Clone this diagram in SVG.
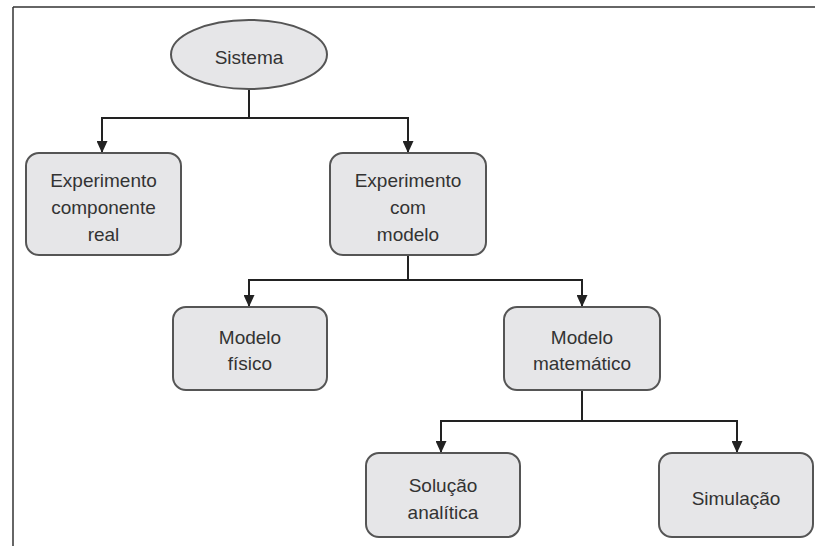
<svg xmlns="http://www.w3.org/2000/svg" width="815" height="546" viewBox="0 0 815 546">
<style>
.box{fill:#e6e6e8;stroke:#555;stroke-width:2}
.lbl{font-family:"Liberation Sans",Arial,Helvetica,sans-serif;font-size:19px;fill:#333;text-anchor:middle}
.con{fill:none;stroke:#222;stroke-width:2}
.arrow{fill:none;stroke:#222;stroke-width:2;marker-end:url(#arr)}
.frame{stroke:#333;stroke-width:1.5;fill:none}
</style>
<defs>
<marker id="arr" viewBox="0 0 11 12" refX="5.5" refY="12" markerWidth="11" markerHeight="12" markerUnits="userSpaceOnUse" orient="0">
<path d="M0,0 L11,0 L5.5,12 Z" fill="#222"/>
</marker>
</defs>
<g id="frame">
<line class="frame" x1="13" y1="7" x2="815" y2="7" stroke="#555"/>
<line class="frame" x1="13" y1="7" x2="13" y2="546"/>
</g>
<g id="connectors">
<path class="con" d="M249,89 V118"/>
<path class="con" d="M102,118 H408"/>
<path class="arrow" d="M102,117 V153"/>
<path class="arrow" d="M408,117 V153"/>
<path class="con" d="M408,255 V280"/>
<path class="con" d="M249,280 H582"/>
<path class="arrow" d="M249,279 V307"/>
<path class="arrow" d="M582,279 V307"/>
<path class="con" d="M582,390 V421"/>
<path class="con" d="M441,421 H737"/>
<path class="arrow" d="M441,420 V453"/>
<path class="arrow" d="M737,420 V453"/>
</g>
<g id="sistema">
<ellipse class="box" cx="249" cy="54.5" rx="78" ry="34.5"/>
<text class="lbl" x="249" y="64">Sistema</text>
</g>
<g id="experimento-real">
<rect class="box" x="26" y="153" width="155" height="102" rx="13"/>
<text class="lbl" x="103.5" y="187">Experimento</text>
<text class="lbl" x="103.5" y="214">componente</text>
<text class="lbl" x="103.5" y="241">real</text>
</g>
<g id="experimento-modelo">
<rect class="box" x="330" y="153" width="156" height="102" rx="13"/>
<text class="lbl" x="408" y="187">Experimento</text>
<text class="lbl" x="408" y="214">com</text>
<text class="lbl" x="408" y="241">modelo</text>
</g>
<g id="modelo-fisico">
<rect class="box" x="173" y="307" width="154" height="83" rx="13"/>
<text class="lbl" x="250" y="344">Modelo</text>
<text class="lbl" x="250" y="370">físico</text>
</g>
<g id="modelo-matematico">
<rect class="box" x="504" y="307" width="156" height="83" rx="13"/>
<text class="lbl" x="582" y="344">Modelo</text>
<text class="lbl" x="582" y="370">matemático</text>
</g>
<g id="solucao-analitica">
<rect class="box" x="366" y="453" width="154" height="84" rx="13"/>
<text class="lbl" x="443" y="492">Solução</text>
<text class="lbl" x="443" y="519">analítica</text>
</g>
<g id="simulacao">
<rect class="box" x="659" y="453" width="154" height="84" rx="13"/>
<text class="lbl" x="736" y="505">Simulação</text>
</g>
</svg>
